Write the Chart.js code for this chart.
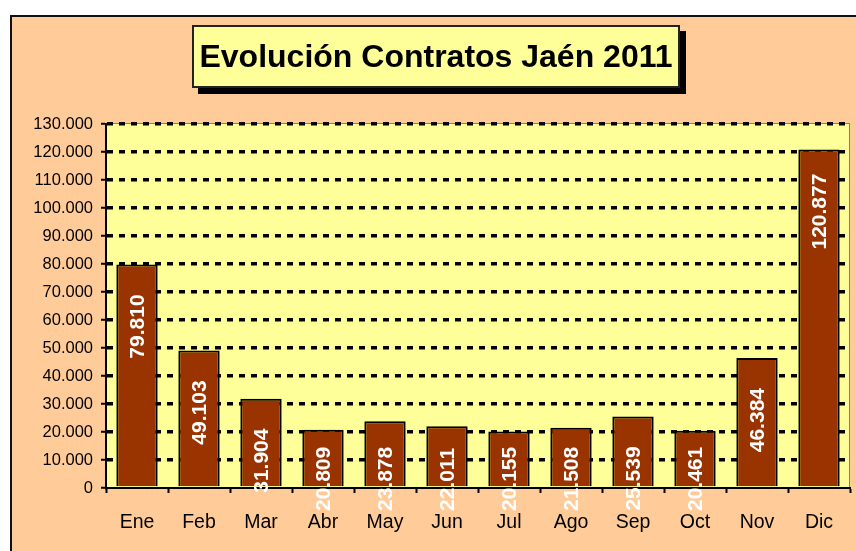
<!DOCTYPE html>
<html>
<head>
<meta charset="utf-8">
<script src="https://cdn.jsdelivr.net/npm/chart.js@4"></script>
<style>
  body { margin: 0; background: #fff; }
  #wrap { position: relative; width: 856px; height: 551px; }
  #titulo {
    position: absolute; left: 192px; top: 25px; width: 488px; height: 63px;
    box-sizing: border-box; background: #FFFF99; border: 2px solid #222;
    box-shadow: 6px 6px 0 #000;
    font: bold 32px "Liberation Sans", Arial, sans-serif; color: #000;
    display: flex; align-items: center; justify-content: center;
  }
</style>
</head>
<body>
<div id="wrap">
  <canvas id="grafico" width="856" height="551"></canvas>
  <div id="titulo">Evolución Contratos Jaén 2011</div>
</div>
<script>
// Datos del grafico
const meses = ["Ene", "Feb", "Mar", "Abr", "May", "Jun", "Jul", "Ago", "Sep", "Oct", "Nov", "Dic"];
const contratos = [79810, 49103, 31904, 20809, 23878, 22011, 20155, 21508, 25539, 20461, 46384, 120877];
const ejeMax = 130000;
const ejePaso = 10000;

const fuente = '"Liberation Sans", Arial, sans-serif';

// Formato con punto de miles
function fmt(v) {
  return String(v).replace(/\B(?=(\d{3})+(?!\d))/g, ".");
}

// Fondo naranja, borde y area de trazado amarilla
const fondo = {
  id: "fondo",
  beforeDraw(chart) {
    const ctx = chart.ctx;
    const w = chart.width, h = chart.height;
    const a = chart.chartArea;
    ctx.save();
    ctx.fillStyle = "#fff";
    ctx.fillRect(0, 0, w, h);
    ctx.fillStyle = "#FFCC99";
    ctx.fillRect(10, 15, w - 10, h - 15);
    ctx.strokeStyle = "#111";
    ctx.lineWidth = 2;
    ctx.beginPath();
    ctx.moveTo(11, h);
    ctx.lineTo(11, 16);
    ctx.lineTo(w, 16);
    ctx.stroke();
    ctx.fillStyle = "#FFFF99";
    ctx.fillRect(a.left, a.top, a.right - a.left, a.bottom - a.top);
    ctx.strokeStyle = "#808080";
    ctx.lineWidth = 1;
    ctx.strokeRect(a.left + 0.5, a.top - 0.5, a.right - a.left - 1, a.bottom - a.top);
    ctx.restore();
  }
};

// Etiquetas blancas giradas dentro de las barras
const etiquetas = {
  id: "etiquetas",
  afterDatasetsDraw(chart) {
    const ctx = chart.ctx;
    const meta = chart.getDatasetMeta(0);
    const tope = chart.chartArea.bottom + 23;
    ctx.save();
    ctx.font = "bold 21px " + fuente;
    ctx.fillStyle = "#fff";
    ctx.textAlign = "center";
    ctx.textBaseline = "middle";
    meta.data.forEach((bar, i) => {
      const txt = fmt(contratos[i]);
      const mitad = ctx.measureText(txt).width / 2;
      const cy = Math.min(bar.y + 62, tope - mitad);
      ctx.save();
      ctx.translate(bar.x, cy);
      ctx.rotate(-Math.PI / 2);
      ctx.fillText(txt, 0, 1);
      ctx.restore();
    });
    ctx.restore();
  }
};

new Chart(document.getElementById("grafico"), {
  type: "bar",
  data: {
    labels: meses,
    datasets: [{
      data: contratos,
      backgroundColor: "#993300",
      borderColor: "#000",
      borderWidth: 2,
      barPercentage: 0.667,
      categoryPercentage: 1
    }]
  },
  options: {
    responsive: false,
    animation: false,
    devicePixelRatio: 1,
    layout: { padding: { left: 0, top: 124, right: 6, bottom: 0 } },
    plugins: { legend: { display: false }, tooltip: { enabled: false } },
    scales: {
      x: {
        afterFit: (s) => { s.height = 63; },
        grid: {
          drawOnChartArea: false, offset: true,
          color: "#000", tickColor: "#000", tickLength: 5, tickWidth: 2
        },
        border: { display: true, color: "#000", width: 2 },
        ticks: { color: "#000", padding: 18, font: { family: fuente, size: 19.5 } }
      },
      y: {
        min: 0,
        max: ejeMax,
        afterFit: (s) => { s.width = 106; },
        grid: {
          color: (c) => (c.tick && c.tick.value === 0 ? "rgba(0,0,0,0)" : "#000"),
          lineWidth: 3.5,
          tickColor: "#000", tickLength: 5, tickWidth: 2, tickBorderDash: []
        },
        border: { display: true, color: "#000", width: 2, dash: [6, 6] },
        ticks: {
          stepSize: ejePaso,
          color: "#000",
          padding: 8,
          font: { family: fuente, size: 16.5 },
          callback: (v) => fmt(v)
        }
      }
    }
  },
  plugins: [fondo, etiquetas]
});
</script>
</body>
</html>
